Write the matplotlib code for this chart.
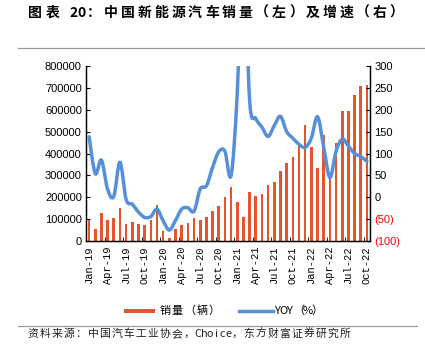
import matplotlib
matplotlib.use("Agg")
import matplotlib.pyplot as plt
import numpy as np
from matplotlib.path import Path
from matplotlib.patches import PathPatch, Rectangle
from matplotlib.lines import Line2D
from matplotlib.ticker import FuncFormatter


plt.rcParams["font.family"] = ["Liberation Sans", "Noto Sans CJK SC", "DejaVu Sans"]
plt.rcParams["axes.unicode_minus"] = False

W, H = 425, 357

# 月份
months = [
    f"{m}-{y}"
    for y in ["19", "20", "21", "22"]
    for m in ["Jan", "Feb", "Mar", "Apr", "May", "Jun",
              "Jul", "Aug", "Sep", "Oct", "Nov", "Dec"]
][:46]

# 销量（辆）
sales = [
    96000, 53000, 126000, 97000, 104000, 152000, 80000, 85000, 80000, 75000, 95000, 163000,
    44000, 13000, 53000, 72000, 82000, 104000, 98000, 109000, 138000, 160000, 200000, 248000,
    179000, 110000, 226000, 206000, 217000, 256000, 271000, 321000, 357000, 383000, 450000, 531000,
    431000, 334000, 484000, 299000, 447000, 596000, 593000, 666000, 708000, 714000,
]

# 同比增速（%）
yoy = [
    138, 54, 85, 18, 2, 80, -5, -16, -34, -46, -44, -27,
    -54, -75, -53, -27, -24, -32, 19, 26, 68, 104, 105, 50,
    238, 585, 222, 180, 160, 139, 164, 185, 150, 135, 121, 114,
    135, 184, 115, 45, 105, 133, 117, 100, 93, 82,
]

BAR_COLOR = "#E5542A"
LINE_COLOR = "#5590D9"
CJK = ["Noto Sans CJK SC", "Liberation Sans", "DejaVu Sans"]


def smooth_path(xs, ys):
    """
    仿 Excel 平滑线：用三次贝塞尔曲线连接各数据点。
    """
    pts = np.column_stack([xs, ys]).astype(float)
    n = len(pts)
    verts = [pts[0]]
    codes = [Path.MOVETO]
    for i in range(n - 1):
        p0 = pts[i - 1] if i > 0 else pts[i]
        p1 = pts[i]
        p2 = pts[i + 1]
        p3 = pts[i + 2] if i + 2 < n else pts[i + 1]
        verts += [p1 + (p2 - p0) / 6, p2 - (p3 - p1) / 6, p2]
        codes += [Path.CURVE4] * 3
    return Path(verts, codes)


def spaced_text(fig, x_px, y_px, text, size, cell, **kw):
    """
    按等宽格子逐字绘制文字（全角一格，半角半格）。
    """
    pos = x_px
    for ch in text:
        step = cell if ord(ch) > 0x2E7F else cell / 2
        if ch != " ":
            fig.text((pos + step / 2) / W, 1 - y_px / H, ch, fontsize=size,
                     ha="center", va="center", family=CJK, **kw)
        pos += step
    return pos


fig = plt.figure(figsize=(W / 100, H / 100), dpi=100)
ax = fig.add_axes([86 / W, 1 - 241 / H, 284 / W, 175 / H])
ax2 = ax.twinx()

x = np.arange(len(months))
ax.bar(x, sales, width=0.42, color=BAR_COLOR, zorder=2)
ax.set_xlim(-0.5, len(months) - 0.5)
ax.set_ylim(0, 800000)
ax.set_yticks(np.arange(0, 800001, 100000))
ax.tick_params(axis="y", direction="in", length=3, labelsize=8, pad=3)

ax.set_xticks(x[::3])
ax.set_xticklabels(months[::3], rotation=90, fontsize=7.5,
                   family=["Liberation Mono", "DejaVu Sans Mono"])
ax.set_xticks(np.arange(2.5, len(months), 3), minor=True)
ax.tick_params(axis="x", which="major", length=0, pad=4)
ax.tick_params(axis="x", which="minor", direction="in", length=3)

ax2.set_ylim(-100, 300)
ax2.set_yticks(np.arange(-100, 301, 50))
ax2.yaxis.set_major_formatter(
    FuncFormatter(lambda v, p: f"({abs(int(v))})" if v < 0 else f"{int(v)}")
)
ax2.tick_params(axis="y", direction="in", length=3, labelsize=8, pad=3)
for lab, val in zip(ax2.get_yticklabels(), np.arange(-100, 301, 50)):
    if val < 0:
        lab.set_color("red")

patch = PathPatch(smooth_path(x, yoy), facecolor="none", edgecolor=LINE_COLOR,
                  lw=2.5, capstyle="round", joinstyle="round",
                  transform=ax2.transData, zorder=3)
ax2.add_patch(patch)

for a in (ax, ax2):
    a.spines["top"].set_visible(False)
    for s in ("left", "right", "bottom"):
        a.spines[s].set_linewidth(0.9)

# 图例
fig.add_artist(Rectangle((124 / W, 1 - 313 / H), 31 / W, 4.5 / H,
                         facecolor=BAR_COLOR, edgecolor="none"))
spaced_text(fig, 159, 311, "销量（辆）", 8, 12.2)
fig.add_artist(Line2D([239 / W, 273 / W], [1 - 311 / H] * 2, color=LINE_COLOR, lw=2.5))
spaced_text(fig, 274, 311, "YOY（%）", 8, 12.2)

# 标题与资料来源
spaced_text(fig, 27, 13, "图表 20：中国新能源汽车销量（左）及增速（右）", 10, 16.8,
            fontweight="bold")
spaced_text(fig, 27, 334, "资料来源：中国汽车工业协会，Choice，东方财富证券研究所", 7.8, 12,
            color="#222222")

fig.add_artist(Line2D([18 / W, 1.0], [1 - 48 / H] * 2, color="#999999", lw=0.9))
fig.add_artist(Line2D([18 / W, 417 / W], [1 - 326 / H] * 2, color="#999999", lw=0.9))

fig.savefig("out.png", dpi=100)
